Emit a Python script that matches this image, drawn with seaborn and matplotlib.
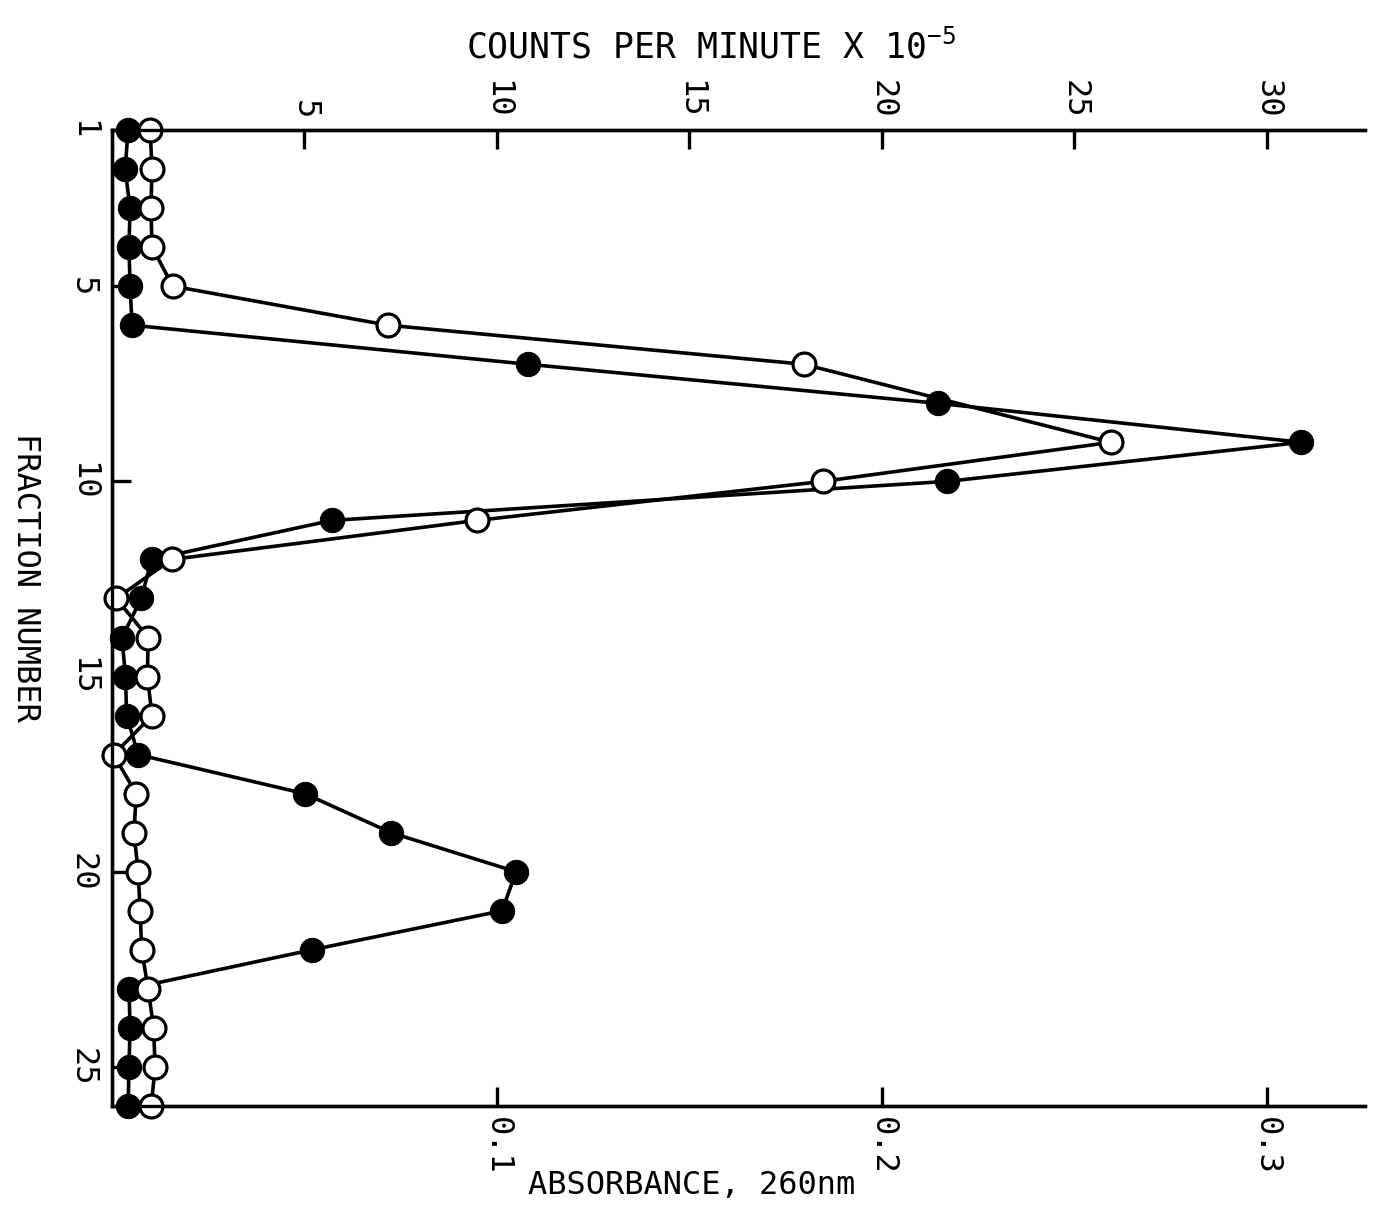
import numpy as np
import pandas as pd
import matplotlib
matplotlib.use("Agg")
import matplotlib.pyplot as plt
import seaborn as sns

# ---- data ----
fractions = list(range(1, 27))
absorbance_260 = [0.0042, 0.0034, 0.0047, 0.0044, 0.0047, 0.0052, 0.108, 0.2145,
                  0.309, 0.217, 0.0571, 0.0103, 0.0076, 0.0026, 0.0035, 0.0038,
                  0.0068, 0.0501, 0.0725, 0.105, 0.1013, 0.0519, 0.0044, 0.0047,
                  0.0044, 0.0042]
cpm_e5 = [0.99, 1.04, 1.01, 1.04, 1.58, 7.17, 17.97, np.nan, 25.95, 18.47, 9.48,
          1.55, 0.11, 0.94, 0.92, 1.04, 0.04, 0.63, 0.57, 0.68, 0.73, 0.77, 0.94,
          1.08, 1.12, 1.02]
fraction_ticks = [1, 5, 10, 15, 20, 25]
abs_ticks = [0.1, 0.2, 0.3]
abs_tick_labels = ["0.1", "0.2", "0.3"]
cpm_ticks = [5, 10, 15, 20, 25, 30]

df_abs = pd.DataFrame({"fraction": fractions, "absorbance": absorbance_260})
df_cpm = pd.DataFrame({"fraction": fractions, "cpm": cpm_e5})

sns.set_style("ticks")
FONT = ["DejaVu Sans Mono", "DejaVu Sans"]
plt.rcParams["font.family"] = FONT
plt.rcParams["text.color"] = "black"
plt.rcParams["axes.labelcolor"] = "black"
plt.rcParams["xtick.color"] = "black"
plt.rcParams["ytick.color"] = "black"
plt.rcParams["mathtext.fontset"] = "custom"
plt.rcParams["mathtext.rm"] = "DejaVu Sans Mono"
plt.rcParams["mathtext.it"] = "DejaVu Sans Mono"

fig = plt.figure(figsize=(13.76, 12.2), dpi=100)
ax = fig.add_axes([112 / 1376, 1 - 1106 / 1220, (1365 - 112) / 1376, (1106 - 130) / 1220])
ax.set_xlim(0, 0.3255)
ax.set_ylim(26, 1)

LW = 2.6
sns.lineplot(data=df_abs, x="absorbance", y="fraction", sort=False, estimator=None,
             ax=ax, color="black", lw=LW, marker="o", markersize=17.5,
             markerfacecolor="black", markeredgecolor="black", clip_on=False)

axt = ax.twiny()
axt.set_xlim(0, 32.55)
sns.lineplot(data=df_cpm, x="cpm", y="fraction", sort=False, estimator=None,
             ax=axt, color="black", lw=LW, marker="o", markersize=16.5,
             markerfacecolor="white", markeredgecolor="black", markeredgewidth=2.3,
             clip_on=False)
ax.set_ylim(26, 1)

for a in (ax, axt):
    a.spines["right"].set_visible(False)
    for s in ("left", "top", "bottom"):
        a.spines[s].set_linewidth(2.4)
        a.spines[s].set_color("black")

ax.set_xticks(abs_ticks)
ax.set_xticklabels(abs_tick_labels, rotation=-90)
ax.tick_params(axis="x", direction="in", length=14, width=2.4, pad=8, labelsize=23)
ax.set_yticks(fraction_ticks)
ax.set_yticklabels([str(v) for v in fraction_ticks], rotation=-90, va="center")
ax.tick_params(axis="y", direction="in", length=14, width=2.4, pad=10, labelsize=23)

axt.set_xticks(cpm_ticks)
axt.set_xticklabels([str(v) for v in cpm_ticks], rotation=-90)
axt.tick_params(axis="x", direction="in", length=14, width=2.4, pad=8, labelsize=23)
axt.set_ylabel("")

ax.set_xlabel("ABSORBANCE, 260nm", fontsize=23, va="center")
ax.xaxis.set_label_coords((692 - 112) / 1253, -(1186 - 1106) / 976)
ax.set_ylabel("FRACTION NUMBER", fontsize=23, rotation=-90, va="center", ha="center")
ax.yaxis.set_label_coords(-(112 - 25) / 1253, 1 - (577 - 130) / 976)
axt.set_xlabel(r"COUNTS PER MINUTE X 10$^{-5}$", fontsize=25, va="center")
axt.xaxis.set_label_coords((711 - 112) / 1253, 1 + (130 - 47) / 976)

fig.savefig("out.png", dpi=100, facecolor="white")
